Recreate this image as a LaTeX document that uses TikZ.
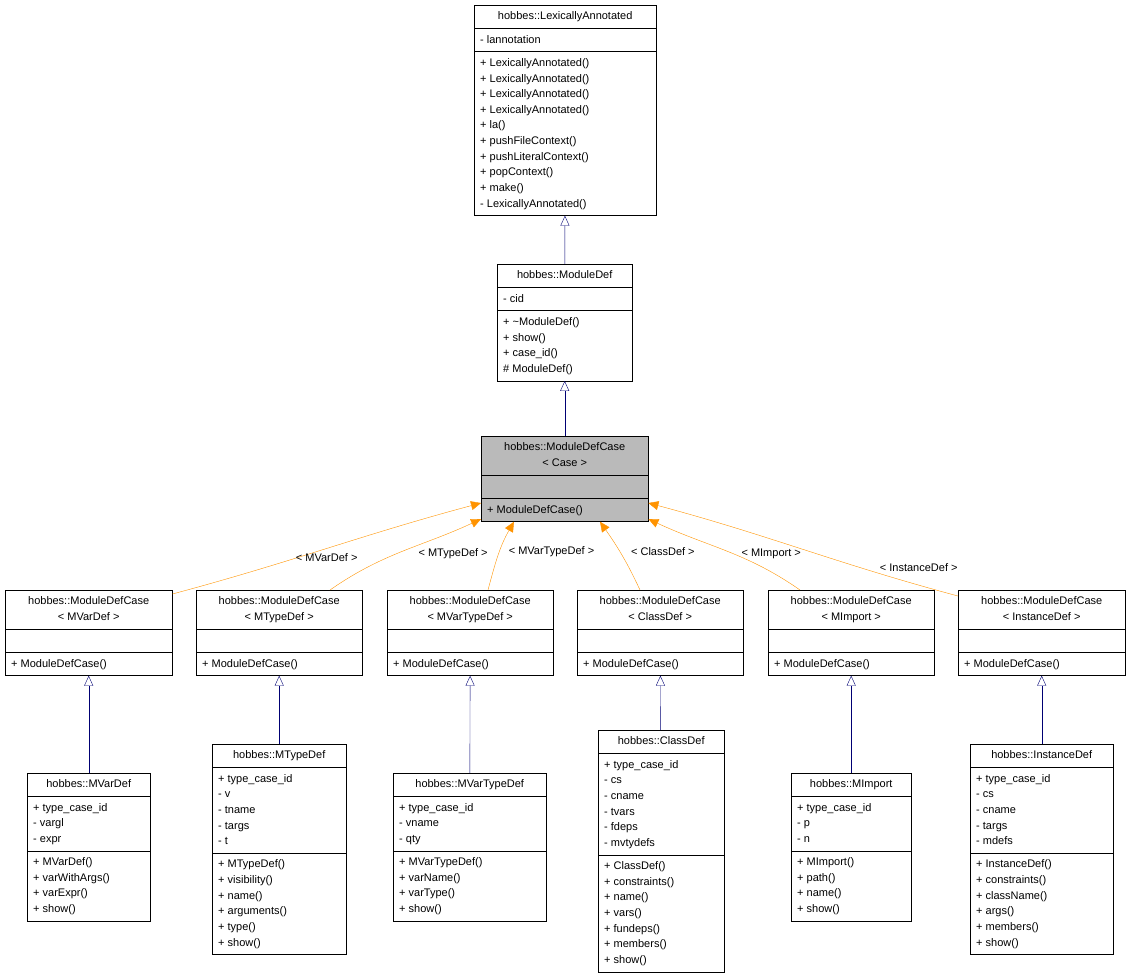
\documentclass[tikz,border=0pt]{standalone}
\usepackage{fontspec}
\setmainfont{Liberation Sans}
\usetikzlibrary{shapes.multipart,arrows.meta,calc}

\newcommand{\rows}[1]{\begin{tabular}{@{}l@{}}#1\end{tabular}}
\newcommand{\crows}[1]{\begin{tabular}{@{}c@{}}#1\end{tabular}}
\renewcommand{\arraystretch}{1.25}

\begin{document}
\begin{tikzpicture}[x=1pt,y=-1pt,
    umlclass/.style={rectangle split, rectangle split parts=3, draw, thin, anchor=north west,
      rectangle split part align={center,left,left}, inner xsep=6pt, inner ysep=3.6pt,
      font=\fontsize{11}{12.5}\selectfont, fill=white},
    current/.style={umlclass, fill=black!27},
    inherit/.style={draw=blue!45!black, -{Triangle[open,length=10pt,width=9pt]}},
    template/.style={draw=orange!85!yellow, -{Triangle[length=10pt,width=9pt,fill=orange!85!yellow]}},
    tlabel/.style={font=\fontsize{11}{12}\selectfont, inner sep=1pt}
]
\useasboundingbox (0,0) rectangle (1131,975);

% top of the hierarchy
\node[umlclass, minimum width=182pt] (lexann) at (474,5)
  {\crows{hobbes::LexicallyAnnotated}\nodepart{two}\rows{- lannotation}
   \nodepart{three}\rows{+ LexicallyAnnotated()\\+ LexicallyAnnotated()\\+ LexicallyAnnotated()\\+ LexicallyAnnotated()\\+ la()\\+ pushFileContext()\\+ pushLiteralContext()\\+ popContext()\\+ make()\\- LexicallyAnnotated()}};
\node[umlclass, minimum width=135pt] (moddef) at (497,264)
  {\crows{hobbes::ModuleDef}\nodepart{two}\rows{- cid}
   \nodepart{three}\rows{+ \textasciitilde{}ModuleDef()\\+ show()\\+ case\_id()\\\# ModuleDef()}};
\node[current, minimum width=167pt] (case) at (481,436)
  {\crows{hobbes::ModuleDefCase\\< Case >}\nodepart{two}\rows{\strut}
   \nodepart{three}\rows{+ ModuleDefCase()}};

% template instances
\node[umlclass, minimum width=167pt] (cvar) at (5,590)
  {\crows{hobbes::ModuleDefCase\\< MVarDef >}\nodepart{two}\rows{\strut}\nodepart{three}\rows{+ ModuleDefCase()}};
\node[umlclass, minimum width=166pt] (ctype) at (196,590)
  {\crows{hobbes::ModuleDefCase\\< MTypeDef >}\nodepart{two}\rows{\strut}\nodepart{three}\rows{+ ModuleDefCase()}};
\node[umlclass, minimum width=166pt] (cvartype) at (387,590)
  {\crows{hobbes::ModuleDefCase\\< MVarTypeDef >}\nodepart{two}\rows{\strut}\nodepart{three}\rows{+ ModuleDefCase()}};
\node[umlclass, minimum width=166pt] (cclass) at (577,590)
  {\crows{hobbes::ModuleDefCase\\< ClassDef >}\nodepart{two}\rows{\strut}\nodepart{three}\rows{+ ModuleDefCase()}};
\node[umlclass, minimum width=166pt] (cimport) at (768,590)
  {\crows{hobbes::ModuleDefCase\\< MImport >}\nodepart{two}\rows{\strut}\nodepart{three}\rows{+ ModuleDefCase()}};
\node[umlclass, minimum width=167pt] (cinst) at (958,590)
  {\crows{hobbes::ModuleDefCase\\< InstanceDef >}\nodepart{two}\rows{\strut}\nodepart{three}\rows{+ ModuleDefCase()}};

% concrete definitions
\node[umlclass, minimum width=123pt] (mvardef) at (27,773)
  {\crows{hobbes::MVarDef}\nodepart{two}\rows{+ type\_case\_id\\- vargl\\- expr}
   \nodepart{three}\rows{+ MVarDef()\\+ varWithArgs()\\+ varExpr()\\+ show()}};
\node[umlclass, minimum width=134pt] (mtypedef) at (212,744)
  {\crows{hobbes::MTypeDef}\nodepart{two}\rows{+ type\_case\_id\\- v\\- tname\\- targs\\- t}
   \nodepart{three}\rows{+ MTypeDef()\\+ visibility()\\+ name()\\+ arguments()\\+ type()\\+ show()}};
\node[umlclass, minimum width=153pt] (mvartypedef) at (393,773)
  {\crows{hobbes::MVarTypeDef}\nodepart{two}\rows{+ type\_case\_id\\- vname\\- qty}
   \nodepart{three}\rows{+ MVarTypeDef()\\+ varName()\\+ varType()\\+ show()}};
\node[umlclass, minimum width=126pt] (classdef) at (598,730)
  {\crows{hobbes::ClassDef}\nodepart{two}\rows{+ type\_case\_id\\- cs\\- cname\\- tvars\\- fdeps\\- mvtydefs}
   \nodepart{three}\rows{+ ClassDef()\\+ constraints()\\+ name()\\+ vars()\\+ fundeps()\\+ members()\\+ show()}};
\node[umlclass, minimum width=120pt] (mimport) at (791,773)
  {\crows{hobbes::MImport}\nodepart{two}\rows{+ type\_case\_id\\- p\\- n}
   \nodepart{three}\rows{+ MImport()\\+ path()\\+ name()\\+ show()}};
\node[umlclass, minimum width=143pt] (instdef) at (970,744)
  {\crows{hobbes::InstanceDef}\nodepart{two}\rows{+ type\_case\_id\\- cs\\- cname\\- targs\\- mdefs}
   \nodepart{three}\rows{+ InstanceDef()\\+ constraints()\\+ className()\\+ args()\\+ members()\\+ show()}};

% inheritance
\draw[inherit] (moddef) -- (lexann);
\draw[inherit] (case) -- (moddef);
\foreach \child/\parent in {mvardef/cvar, mtypedef/ctype, mvartypedef/cvartype, classdef/cclass, mimport/cimport, instdef/cinst}
  \draw[inherit] (\child) -- (\parent);

% template bindings
\draw[template] ($(cvar.north east)+(0,4)$) to[out=15,in=-165] node[tlabel, pos=0.5, below=4pt] {< MVarDef >} ($(case.north west)+(0,67)$);
\draw[template] (ctype.north -| 330,0) to[out=35,in=-155] node[tlabel, pos=0.5, anchor=west, xshift=14pt, yshift=-3pt] {< MTypeDef >} ($(case.north west)+(0,83)$);
\draw[template] (cvartype.north -| 488,0) to[out=75,in=-120] node[tlabel, pos=0.55, anchor=west, xshift=8pt] {< MVarTypeDef >} ($(case.south west)+(33,0)$);
\draw[template] (cclass.north -| 640,0) to[out=115,in=-55] node[tlabel, pos=0.55, anchor=west, xshift=10pt] {< ClassDef >} ($(case.south west)+(119,0)$);
\draw[template] (cimport.north -| 800,0) to[out=145,in=-25] node[tlabel, pos=0.5, anchor=west, xshift=14pt, yshift=-3pt] {< MImport >} ($(case.north east)+(0,83)$);
\draw[template] ($(cinst.north west)+(0,6)$) to[out=165,in=-15] node[tlabel, pos=0.2, anchor=south, xshift=28pt, yshift=4pt] {< InstanceDef >} ($(case.north east)+(0,67)$);
\end{tikzpicture}
\end{document}
